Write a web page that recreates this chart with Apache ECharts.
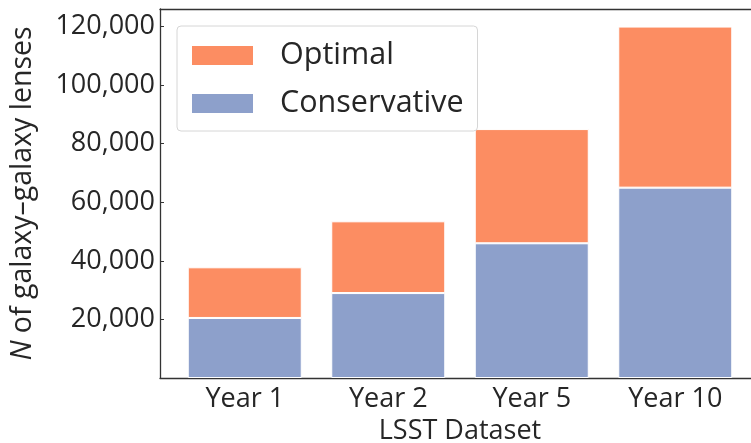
<!DOCTYPE html>
<html>
<head>
<meta charset="utf-8">
<script src="https://cdn.jsdelivr.net/npm/echarts@6/dist/echarts.min.js"></script>
<style>
html,body{margin:0;padding:0;background:#fff;}
#chart{width:751px;height:443px;}
</style>
</head>
<body>
<div id="chart"></div>
<script>
const categories = ['Year 1', 'Year 2', 'Year 5', 'Year 10'];
const conservative = [20500, 29000, 46000, 65000];
const optimalExtra = [17300, 24500, 39000, 55000];
const yTicks = [20000, 40000, 60000, 80000, 100000, 120000];

const FONT = '"Open Sans", "Noto Sans", sans-serif';
const TXT = '#262626';
const AX = '#333333';
const Y_MAX = 126000;

const chart = echarts.init(document.getElementById('chart'), null, {renderer: 'canvas'});

const option = {
  animation: false,
  backgroundColor: '#ffffff',
  textStyle: {fontFamily: FONT},
  grid: [
    {left: 160, right: -9, top: 9, bottom: 65, containLabel: false, outerBoundsMode: 'none'},
    {left: 173, right: 4, top: 9, bottom: 65, containLabel: false, outerBoundsMode: 'none'}
  ],
  legend: {
    data: ['Optimal', 'Conservative'],
    orient: 'vertical',
    left: 177,
    top: 26,
    padding: [14, 14, 12, 13],
    itemWidth: 63,
    itemHeight: 21,
    itemGap: 17,
    icon: 'rect',
    backgroundColor: '#ffffff',
    borderColor: '#d6d6d6',
    borderWidth: 1,
    borderRadius: 4,
    textStyle: {fontFamily: FONT, fontSize: 30.5, color: TXT, padding: [0, 0, 0, 21], lineHeight: 21}
  },
  xAxis: [{
    gridIndex: 0,
    type: 'value',
    min: 0, max: 1,
    position: 'bottom',
    splitLine: {show: false},
    axisLine: {show: true, onZero: false, lineStyle: {color: AX, width: 1.3}},
    axisTick: {show: false},
    axisLabel: {show: false},
    name: 'LSST Dataset',
    nameLocation: 'middle',
    nameGap: 40,
    nameTextStyle: {fontFamily: FONT, fontSize: 27, color: TXT}
  }, {
    gridIndex: 0,
    type: 'value',
    min: 0, max: 1,
    position: 'top',
    splitLine: {show: false},
    axisLine: {show: true, onZero: false, lineStyle: {color: AX, width: 1.3}},
    axisTick: {show: false},
    axisLabel: {show: false}
  }, {
    gridIndex: 1,
    type: 'category',
    data: categories,
    boundaryGap: true,
    position: 'bottom',
    axisLine: {show: false},
    axisTick: {show: false},
    splitLine: {show: false},
    axisLabel: {fontFamily: FONT, fontSize: 27, color: TXT, margin: 8}
  }],
  yAxis: [{
    gridIndex: 0,
    type: 'value',
    min: 0,
    max: Y_MAX,
    splitLine: {show: false},
    axisLine: {show: true, onZero: false, lineStyle: {color: AX, width: 1.3}},
    axisTick: {show: true, inside: true, length: 4, customValues: yTicks, lineStyle: {color: AX, width: 1}},
    axisLabel: {
      customValues: yTicks,
      formatter: v => v.toLocaleString('en-US'),
      fontFamily: FONT, fontSize: 27, color: TXT, margin: 5
    },
    name: '{i|N} of galaxy\u2013galaxy lenses',
    nameLocation: 'middle',
    nameRotate: 90,
    nameGap: 123,
    nameTextStyle: {
      fontFamily: FONT, fontSize: 28.5, color: TXT,
      rich: {i: {fontFamily: FONT, fontSize: 28.5, fontStyle: 'italic', color: TXT}}
    }
  }, {
    gridIndex: 1,
    type: 'value',
    min: 0,
    max: Y_MAX,
    show: false,
    splitLine: {show: false}
  }],
  series: [{
    name: 'Conservative',
    type: 'bar',
    stack: 'total',
    barWidth: 114,
    xAxisIndex: 2,
    yAxisIndex: 1,
    data: conservative,
    itemStyle: {color: '#8da0cb', borderColor: '#ffffff', borderWidth: 1}
  }, {
    name: 'Optimal',
    type: 'bar',
    stack: 'total',
    barWidth: 114,
    xAxisIndex: 2,
    yAxisIndex: 1,
    data: optimalExtra,
    itemStyle: {color: '#fc8d62', borderColor: '#ffffff', borderWidth: 1}
  }]
};
chart.setOption(option);
</script>
</body>
</html>
